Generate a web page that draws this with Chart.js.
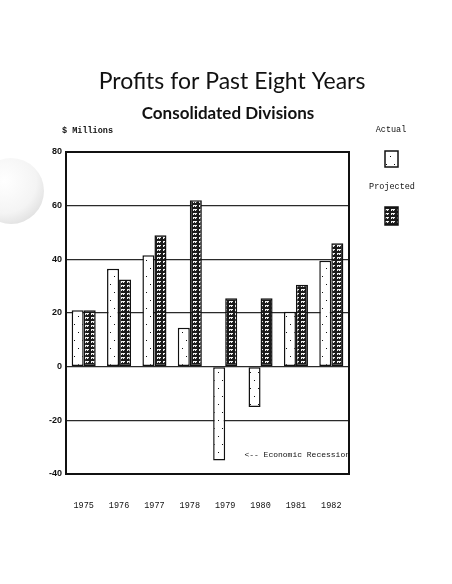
<!DOCTYPE html>
<html>
<head>
<meta charset="utf-8">
<script src="https://cdn.jsdelivr.net/npm/chart.js@4"></script>
<style>
  html, body { margin: 0; padding: 0; background: #fff; }
  #wrap { position: relative; width: 452px; height: 584px; overflow: hidden; }
  #hole { position: absolute; left: -22px; top: 158px; width: 66px; height: 66px; border-radius: 50%;
          background: radial-gradient(circle at 40% 35%, #ffffff 0%, #f4f4f4 55%, #cfcfcf 100%); }
  canvas { position: absolute; left: 0; top: 0; }
</style>
</head>
<body>
<div id="wrap">
  <div id="hole"></div>
  <canvas id="grafico" width="452" height="584"></canvas>
</div>
<script>
// Dados ($ milhões)
const anos = ['1975', '1976', '1977', '1978', '1979', '1980', '1981', '1982'];
const realizado = [21, 36.5, 41.5, 14.5, -35, -15, 20.5, 39.5];
const projetado = [21, 32.5, 49, 62, 25.5, 25.5, 30.5, 46];
const escalaY = [-40, 80, 20]; // min, max, passo

const mono = '"Liberation Mono", "DejaVu Sans Mono", monospace';

// Padrão das barras "Actual": branco com pontinhos
function padraoRealizado() {
  const c = document.createElement('canvas');
  c.width = 8; c.height = 16;
  const g = c.getContext('2d');
  g.fillStyle = '#fff';
  g.fillRect(0, 0, 8, 16);
  g.fillStyle = '#111';
  g.fillRect(2, 4, 1, 1);
  g.fillRect(6, 12, 1, 1);
  return g.createPattern(c, 'repeat');
}

// Padrão das barras "Projected": escuro com retângulos brancos
function padraoProjetado() {
  const c = document.createElement('canvas');
  c.width = 6; c.height = 4;
  const g = c.getContext('2d');
  g.fillStyle = '#1a1a1a';
  g.fillRect(0, 0, 6, 4);
  g.fillStyle = '#f2f2f2';
  g.fillRect(1, 1, 4, 2);
  g.fillStyle = '#333';
  g.fillRect(2, 2, 1, 1);
  g.fillRect(4, 2, 1, 1);
  return g.createPattern(c, 'repeat');
}

const corReal = padraoRealizado();
const corProj = padraoProjetado();

// Textos, moldura e legenda desenhados à mão
const textosPlugin = {
  id: 'textos',
  afterDraw(chart) {
    const ctx = chart.ctx;
    const a = chart.chartArea;
    ctx.save();
    // moldura
    ctx.strokeStyle = '#111';
    ctx.lineWidth = 2;
    ctx.strokeRect(a.left, a.top, a.right - a.left, a.bottom - a.top);

    ctx.fillStyle = '#111';
    ctx.textBaseline = 'middle';
    ctx.textAlign = 'center';
    ctx.font = '23px Lato, "Noto Sans", sans-serif';
    ctx.fillText('Profits for Past Eight Years', 232, 82);
    ctx.font = 'bold 17px Lato, "Noto Sans", sans-serif';
    ctx.fillText('Consolidated Divisions', 228, 114);

    ctx.textAlign = 'left';
    ctx.font = 'bold 8.5px ' + mono;
    ctx.fillText('$ Millions', 62, 131);

    // legenda
    ctx.textAlign = 'center';
    ctx.font = '8.5px ' + mono;
    ctx.fillText('Actual', 391, 130);
    ctx.fillText('Projected', 392, 187);
    ctx.lineWidth = 1.5;
    ctx.fillStyle = corReal;
    ctx.fillRect(385, 151, 13, 16);
    ctx.strokeRect(385, 151, 13, 16);
    ctx.fillStyle = corProj;
    ctx.fillRect(385, 207, 13, 18);
    ctx.strokeRect(385, 207, 13, 18);

    // anotação
    ctx.fillStyle = '#111';
    ctx.textAlign = 'right';
    ctx.font = '8px ' + mono;
    ctx.fillText('<-- Economic Recession', a.right + 1, 455);
    ctx.restore();
  }
};

new Chart(document.getElementById('grafico').getContext('2d'), {
  type: 'bar',
  data: {
    labels: anos,
    datasets: [
      {
        label: 'Actual',
        data: realizado,
        backgroundColor: corReal,
        borderColor: '#111',
        borderWidth: 1.5,
        borderSkipped: false
      },
      {
        label: 'Projected',
        data: projetado,
        backgroundColor: corProj,
        borderColor: '#111',
        borderWidth: 1.5,
        borderSkipped: false
      }
    ]
  },
  options: {
    responsive: false,
    animation: false,
    layout: { padding: { left: 0, top: 152, right: 103, bottom: 0 } },
    datasets: { bar: { categoryPercentage: 0.68, barPercentage: 1 } },
    plugins: {
      legend: { display: false },
      title: { display: false },
      tooltip: { enabled: false }
    },
    scales: {
      x: {
        grid: { display: false, drawTicks: false },
        border: { display: false },
        ticks: { color: '#111', font: { family: mono, size: 8.5 }, padding: 27 },
        afterFit(s) { s.height = 110; }
      },
      y: {
        min: escalaY[0],
        max: escalaY[1],
        ticks: {
          stepSize: escalaY[2],
          color: '#111',
          font: { family: '"Liberation Sans", Arial, sans-serif', size: 9, weight: 'bold' },
          padding: 4
        },
        grid: { color: '#2a2a2a', lineWidth: 1.2, drawTicks: false },
        border: { display: false },
        afterFit(s) { s.width = 66; }
      }
    }
  },
  plugins: [textosPlugin]
});
</script>
</body>
</html>
